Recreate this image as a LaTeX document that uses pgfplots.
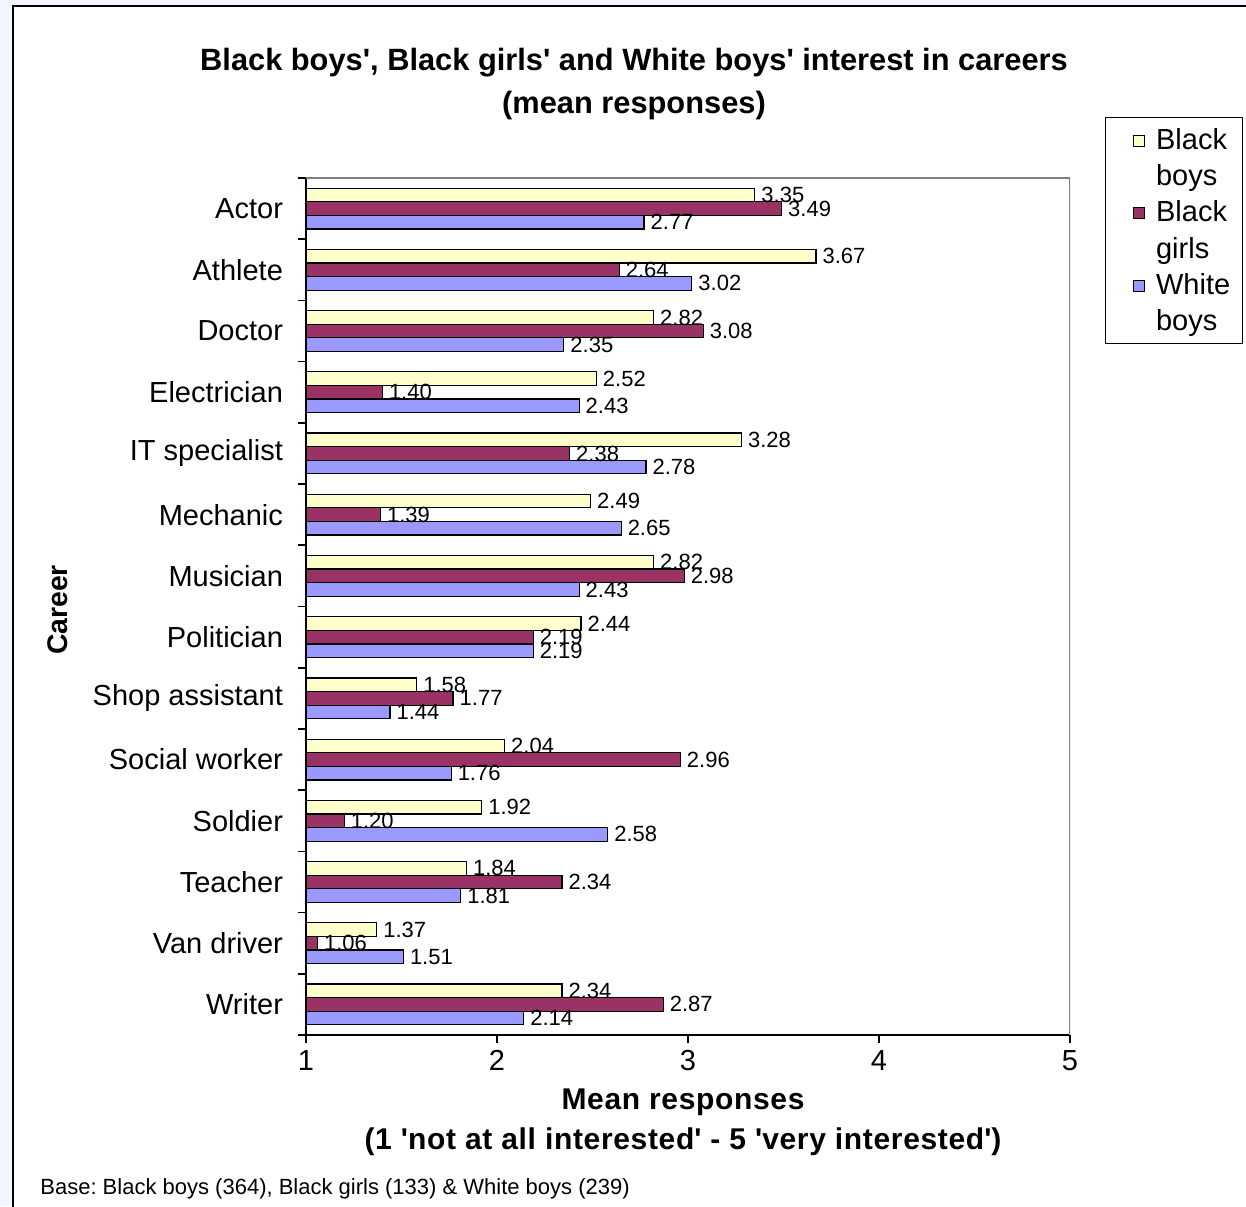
\documentclass[border=0pt]{standalone}
\usepackage{pgfplots}
\pgfplotsset{compat=1.18}
\usepackage{fontspec}
\setmainfont{Liberation Sans}
\definecolor{bbcol}{HTML}{FFFFCC}
\definecolor{bgcol}{HTML}{993366}
\definecolor{wbcol}{HTML}{9999FF}
\definecolor{bgout}{HTML}{F2F5FD}
\newcommand{\q}{\textquotesingle}
\frenchspacing
\begin{document}
\begin{tikzpicture}
\useasboundingbox (0,0) rectangle (623pt,603pt);
\begin{scope}
\clip (0,0) rectangle (623pt,603pt);
\fill[bgout] (0,0) rectangle (623pt,603pt);
\draw[fill=white, line width=1.2pt] (6.5pt,-20pt) rectangle (700pt,600pt);
\end{scope}
\node[align=center, font=\bfseries\fontsize{15.4}{21.5}\selectfont] at (317pt,560.75pt) {Black boys\q, Black girls\q{} and White boys\q{} interest in careers\\(mean responses)};
\node[anchor=base west, font=\fontsize{11}{13}\selectfont, inner sep=0pt] at (20pt,6pt) {Base: Black boys (364), Black girls (133) \& White boys (239)};
\begin{axis}[
  at={(153pt,85.5pt)}, anchor=south west,
  scale only axis, width=382pt, height=428.5pt,
  xmin=1, xmax=5, ymin=-0.5, ymax=13.5,
  xtick={1,2,3,4,5},
  ytick={0,...,13},
  yticklabels={Writer,Van driver,Teacher,Soldier,Social worker,Shop assistant,Politician,Musician,Mechanic,IT specialist,Electrician,Doctor,Athlete,Actor},
  minor ytick={-0.5,0.5,...,13.5},
  every major y tick/.append style={draw=none},
  tick align=outside,
  major tick length=4pt, minor tick length=4pt,
  tick style={black, line width=0.8pt},
  axis x line*=bottom, axis y line*=left,
  axis line style={-, black, line width=1pt},
  /pgf/number format/assume math mode=true,
  xticklabel style={font=\fontsize{14.5}{17}\selectfont},
  yticklabel style={font=\fontsize{14.5}{17}\selectfont, xshift=-4pt},
  xbar=0pt, bar width=6.8pt,
  nodes near coords={\pgfmathprintnumber[fixed,fixed zerofill,precision=2]{\pgfplotspointmeta}},
  nodes near coords align=horizontal,
  point meta=x,
  every node near coord/.append style={font=\fontsize{11}{13}\selectfont, inner ysep=1.5pt, inner xsep=3pt, black},
  xlabel={Mean responses\\(1 \q not at all interested\q{} - 5 \q very interested\q)},
  xlabel style={at={(axis description cs:0.4935,-0.0618)}, anchor=north, align=center, inner sep=0pt, font=\bfseries\fontsize{15}{20}\selectfont\addfontfeature{LetterSpace=2.2}},
  ylabel={Career},
  ylabel style={at={(axis description cs:-0.3246,0.496)}, anchor=center, font=\bfseries\fontsize{14.2}{17}\selectfont},
  legend style={at={(1.0458,1.0712)}, anchor=north west, draw=black, line width=0.6pt,
    inner xsep=4pt, inner ysep=3pt, row sep=1.6pt,
    font=\fontsize{14.5}{17}\selectfont,
    cells={anchor=base west, text height=11pt, text depth=4pt, inner ysep=1.5pt, inner xsep=0pt},
    /tikz/every odd column/.append style={column sep=3.5pt}},
  legend image code/.code={\path[draw=none,fill=none] (0pt,1.5pt) -- (10pt,1.5pt); \draw[#1,draw=black,line width=0.5pt] (10pt,1.5pt) rectangle (15.5pt,7pt);},
]
\addplot[fill=bbcol, draw=black, line width=0.6pt, bar shift=6.8pt] coordinates {
 (3.35,13) (3.67,12) (2.82,11) (2.52,10) (3.28,9) (2.49,8) (2.82,7) (2.44,6) (1.58,5) (2.04,4) (1.92,3) (1.84,2) (1.37,1) (2.34,0)};
\addlegendentry{Black}
\addlegendimage{empty legend}
\addlegendentry{boys}
\addplot[fill=bgcol, draw=black, line width=0.6pt, bar shift=0pt] coordinates {
 (3.49,13) (2.64,12) (3.08,11) (1.40,10) (2.38,9) (1.39,8) (2.98,7) (2.19,6) (1.77,5) (2.96,4) (1.20,3) (2.34,2) (1.06,1) (2.87,0)};
\addlegendentry{Black}
\addlegendimage{empty legend}
\addlegendentry{girls}
\addplot[fill=wbcol, draw=black, line width=0.6pt, bar shift=-6.8pt] coordinates {
 (2.77,13) (3.02,12) (2.35,11) (2.43,10) (2.78,9) (2.65,8) (2.43,7) (2.19,6) (1.44,5) (1.76,4) (2.58,3) (1.81,2) (1.51,1) (2.14,0)};
\addlegendentry{White}
\addlegendimage{empty legend}
\addlegendentry{boys}
\draw[gray, line width=0.8pt] (rel axis cs:0,1) -- (rel axis cs:1,1) -- (rel axis cs:1,0);
\end{axis}
\end{tikzpicture}
\end{document}
